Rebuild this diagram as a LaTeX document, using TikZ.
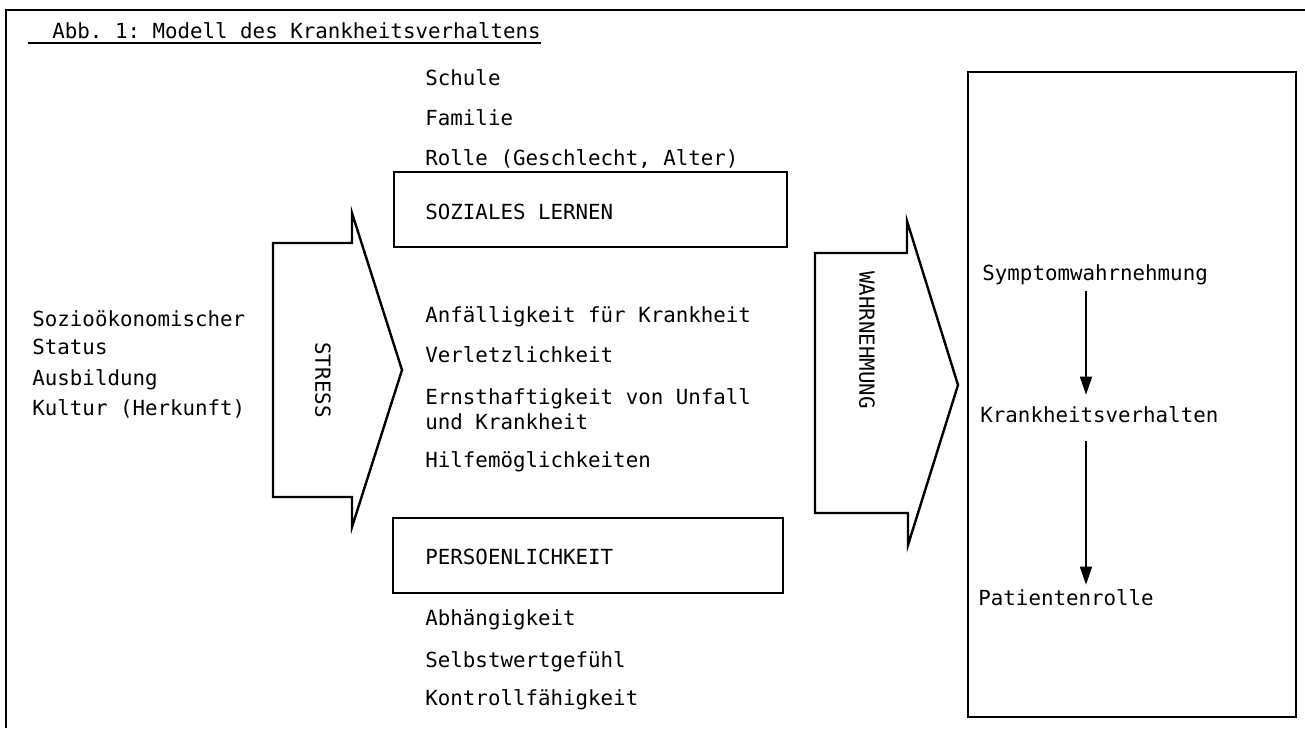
\documentclass[tikz,border=0pt]{standalone}
\usepackage{fontspec}
\setmonofont{DejaVu Sans Mono}
\usetikzlibrary{arrows.meta}
\tikzset{
  lbl/.style={font=\ttfamily\fontsize{10.4}{12}\selectfont, anchor=base west, inner sep=0pt},
  box/.style={draw, line width=1.2pt},
  flow/.style={-{Triangle[width=6pt,length=9pt]}, line width=0.9pt},
}
\begin{document}
\begin{tikzpicture}[x=0.5pt,y=-0.5pt]
  \useasboundingbox (0,0) rectangle (1305,728);
  % frame and title
  \draw[line width=0.8pt] (6,728) -- (6,10) -- (1305,10);
  \draw (52,39) node[lbl] (title) {Abb. 1: Modell des Krankheitsverhaltens};
  \draw[line width=0.8pt] ([xshift=-12pt,yshift=-2pt]title.base west) -- ([yshift=-2pt]title.base east);
  % left column
  \draw
    (32,326) node[lbl] (sozio) {Sozioökonomischer}
    (32,354) node[lbl] (status) {Status}
    (32,385) node[lbl] (ausb) {Ausbildung}
    (32,415) node[lbl] (kultur) {Kultur (Herkunft)};
  % stress arrow
  \draw[box] (273,243) -- (352,243) -- (352,213) -- (402,370) -- (352,527)
    -- (352,497) -- (273,497) -- cycle;
  \node[lbl, anchor=center, rotate=-90] (stress) at (323,380) {STRESS};
  % middle column
  \draw
    (425,85) node[lbl] (schule) {Schule}
    (425,125) node[lbl] (familie) {Familie}
    (425,165) node[lbl] (rolle) {Rolle (Geschlecht, Alter)}
    (425,219) node[lbl] (sozial) {SOZIALES LERNEN}
    (425,322) node[lbl] (anf) {Anfälligkeit für Krankheit}
    (425,362) node[lbl] (verl) {Verletzlichkeit}
    (425,404) node[lbl] (ernst) {Ernsthaftigkeit von Unfall}
    (425,429) node[lbl] (unfall) {und Krankheit}
    (425,467) node[lbl] (hilfe) {Hilfemöglichkeiten}
    (425,564) node[lbl] (pers) {PERSOENLICHKEIT}
    (425,625) node[lbl] (abh) {Abhängigkeit}
    (425,667) node[lbl] (selbst) {Selbstwertgefühl}
    (425,705) node[lbl] (kontr) {Kontrollfähigkeit};
  \draw[box] (394,172) rectangle (787,247);
  \draw[box] (393,518) rectangle (783,593);
  % perception arrow
  \draw[box] (815,253) -- (907,253) -- (907,221) -- (958,385) -- (908,545)
    -- (908,513) -- (815,513) -- cycle;
  \node[lbl, anchor=center, rotate=-90] (wahr) at (867,340) {WAHRNEHMUNG};
  % right box
  \draw[box] (968,72) rectangle (1296,717);
  \draw
    (982,280) node[lbl] (symp) {Symptomwahrnehmung}
    (980,422) node[lbl] (krank) {Krankheitsverhalten}
    (978,605) node[lbl] (patient) {Patientenrolle};
  \coordinate (axis) at (1086,0);
  \begin{scope}[flow]
    \draw[shorten <=3pt, shorten >=5.5pt] (symp.south -| axis) -- (krank.north -| axis);
    \draw[shorten <=9pt, shorten >=2pt] (krank.south -| axis) -- (patient.north -| axis);
  \end{scope}
\end{tikzpicture}
\end{document}
